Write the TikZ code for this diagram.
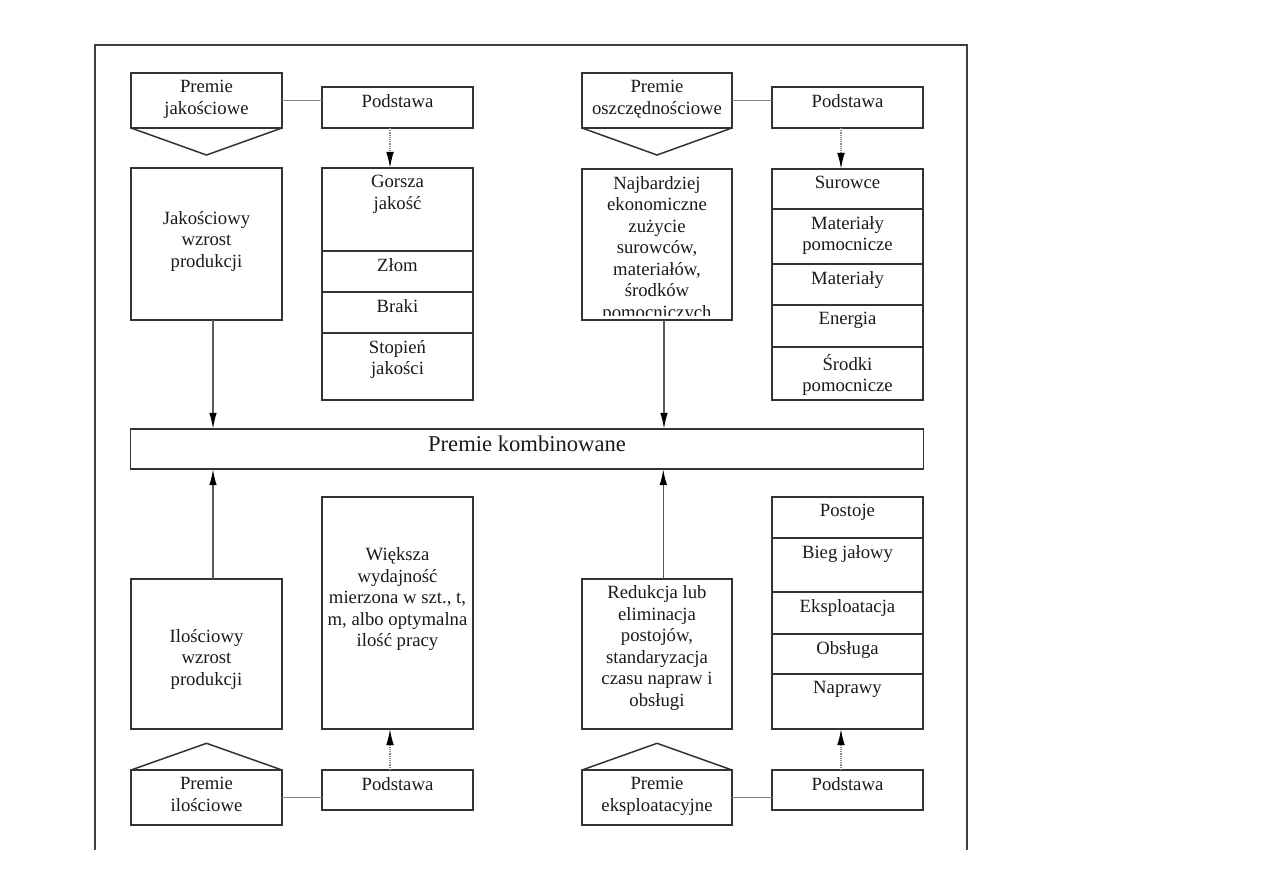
\documentclass[tikz,border=0pt]{standalone}
\usepackage{fontspec}
\setmainfont{Liberation Serif}
\usetikzlibrary{arrows.meta}
\definecolor{boxc}{HTML}{333333}
\definecolor{framec}{HTML}{404040}
\definecolor{linkc}{HTML}{858585}
\definecolor{arrc}{HTML}{5A5A5A}
\definecolor{dotc}{HTML}{8A8A8A}
\definecolor{txtc}{HTML}{1A1A1A}
\newcommand\fsmain{\fontsize{9.35pt}{10.75pt}\selectfont}
\newcommand\fsbig{\fontsize{11.3pt}{13pt}\selectfont}
\begin{document}
\begin{tikzpicture}[x=0.5pt,y=-0.5pt,
  box/.style={draw=boxc, line width=0.75pt, inner sep=0pt, outer sep=0pt, minimum width=75.5pt},
  txt/.style={align=center, inner sep=0pt, font=\fsmain, text=txtc},
  toptxt/.style={txt, anchor=north, yshift=-3.5pt},
  boxline/.style={draw=boxc, line width=0.75pt, line join=miter},
  link/.style={draw=linkc, line width=0.65pt},
  arr/.style={draw=arrc, line width=0.7pt, -{Latex[length=8pt,width=3.8pt,color=black]}},
  darr/.style={arr, draw=dotc, dash pattern=on 0.6pt off 0.5pt}]
\useasboundingbox (0,0) rectangle (1263,893);
\fill[white] (0,0) rectangle (1263,893);
% frame
\draw[draw=framec, line width=0.75pt] (95,850) -- (95,45) -- (967,45) -- (967,850);

% ---------- top left ----------
\node[box, minimum height=27.5pt] (pj) at (206.5,100.5) {};
\node[toptxt] (pjt) at (pj.north) {Premie\\jakościowe};
\coordinate (pja) at (206.5,155);
\draw[boxline] (pj.south west) -- (pja) -- (pj.south east);
\node[box, minimum height=20.5pt] (pjp) at (397.5,107.5) {};
\node[toptxt] (pjpt) at (pjp.north) {Podstawa};
\draw[link] (pj.east) -- (pj.east -| pjp.west);

\node[box, minimum height=76pt] (jw) at (206.5,244) {};
\node[txt] (jwt) at (206.5,241.3) {Jakościowy\\wzrost\\produkcji};

\node[box, minimum height=41.5pt] (g1) at (397.5,209.5) {};
\node[toptxt] (g1t) at (g1.north) {Gorsza\\jakość};
\node[box, minimum height=20.5pt] (g2) at (397.5,271.5) {};
\node[toptxt] (g2t) at (g2.north) {Złom};
\node[box, minimum height=20.5pt] (g3) at (397.5,312.5) {};
\node[toptxt] (g3t) at (g3.north) {Braki};
\node[box, minimum height=33.5pt] (g4) at (397.5,366.5) {};
\node[toptxt] (g4t) at (g4.north) {Stopień\\jakości};

% ---------- top right ----------
\node[box, minimum width=75pt, minimum height=27.5pt] (po) at (657,100.5) {};
\node[toptxt] (pot) at (po.north) {Premie\\oszczędnościowe};
\coordinate (poa) at (657,155);
\draw[boxline] (po.south west) -- (poa) -- (po.south east);
\node[box, minimum height=20.5pt] (pop) at (847.5,107.5) {};
\node[toptxt] (popt) at (pop.north) {Podstawa};
\draw[link] (po.east) -- (po.east -| pop.west);

\node[box, minimum width=75pt, minimum height=75.5pt] (nb) at (657,244.5) {};
\begin{scope}
  \clip (582,169) rectangle (732,315.5);
  \node[toptxt] (nbt) at (nb.north) {Najbardziej\\ekonomiczne\\zużycie\\surowców,\\materiałów,\\środków\\pomocniczych};
\end{scope}

\node[box, minimum height=20pt] (s1) at (847.5,189) {};
\node[toptxt] (s1t) at (s1.north) {Surowce};
\node[box, minimum height=27.5pt] (s2) at (847.5,236.5) {};
\node[toptxt] (s2t) at (s2.north) {Materiały\\pomocnicze};
\node[box, minimum height=20.5pt] (s3) at (847.5,284.5) {};
\node[toptxt] (s3t) at (s3.north) {Materiały};
\node[box, minimum height=21pt] (s4) at (847.5,326) {};
\node[toptxt] (s4t) at (s4.north) {Energia};
\node[box, minimum height=26.5pt] (s5) at (847.5,373.5) {};
\node[toptxt] (s5t) at (s5.north) {Środki\\pomocnicze};

% ---------- middle ----------
\node[box, minimum width=396.3pt, minimum height=20.2pt] (komb) at (527,449) {};
\node[txt, font=\fsbig] (kombt) at (527,444) {Premie kombinowane};

% ---------- bottom left ----------
\node[box, minimum height=75pt] (il) at (206.5,654) {};
\node[txt] (ilt) at (206.5,659) {Ilościowy\\wzrost\\produkcji};
\node[box, minimum height=116pt] (wk) at (397.5,613) {};
\node[txt] (wkt) at (397.5,599.5) {Większa\\wydajność\\mierzona w szt., t,\\m, albo optymalna\\ilość pracy};

\node[box, minimum height=27.5pt] (pi) at (206.5,797.5) {};
\node[toptxt] (pit) at (pi.north) {Premie\\ilościowe};
\coordinate (pia) at (206.5,743.3);
\draw[boxline] (pi.north west) -- (pia) -- (pi.north east);
\node[box, minimum height=20pt] (pip) at (397.5,790) {};
\node[toptxt] (pipt) at (pip.north) {Podstawa};
\draw[link] (pi.east) -- (pi.east -| pip.west);

% ---------- bottom right ----------
\node[box, minimum width=75pt, minimum height=75pt] (rd) at (657,654) {};
\node[txt] (rdt) at (657,648) {Redukcja lub\\eliminacja\\postojów,\\standaryzacja\\czasu napraw i\\obsługi};

\node[box, minimum height=20.5pt] (r1) at (847.5,517.5) {};
\node[toptxt] (r1t) at (r1.north) {Postoje};
\node[box, minimum height=27pt] (r2) at (847.5,565) {};
\node[toptxt] (r2t) at (r2.north) {Bieg jałowy};
\node[box, minimum height=21pt] (r3) at (847.5,613) {};
\node[toptxt] (r3t) at (r3.north) {Eksploatacja};
\node[box, minimum height=20pt] (r4) at (847.5,654) {};
\node[toptxt] (r4t) at (r4.north) {Obsługa};
\node[box, minimum height=27.5pt] (r5) at (847.5,701.5) {};
\node[toptxt] (r5t) at (r5.north) {Naprawy};

\node[box, minimum width=75pt, minimum height=27.5pt] (pe) at (657,797.5) {};
\node[toptxt] (pet) at (pe.north) {Premie\\eksploatacyjne};
\coordinate (pea) at (657,743.3);
\draw[boxline] (pe.north west) -- (pea) -- (pe.north east);
\node[box, minimum height=20pt] (pep) at (847.5,790) {};
\node[toptxt] (pept) at (pep.north) {Podstawa};
\draw[link] (pe.east) -- (pe.east -| pep.west);

% ---------- arrows ----------
\coordinate (d1a) at ([xshift=-3.75pt]pjp.south);
\coordinate (d1b) at ([xshift=-3.75pt]g1.north);
\draw[darr] (d1a) -- (d1b);
\coordinate (d2a) at ([xshift=-3.25pt]pop.south);
\coordinate (d2b) at ([xshift=-3.25pt]s1.north);
\draw[darr] (d2a) -- (d2b);
\coordinate (d3a) at ([xshift=-3.75pt]pip.north);
\coordinate (d3b) at ([xshift=-3.75pt]wk.south);
\draw[darr] (d3a) -- (d3b);
\coordinate (d4a) at ([xshift=-3.25pt]pep.north);
\coordinate (d4b) at ([xshift=-3.25pt]r5.south);
\draw[darr] (d4a) -- (d4b);

\coordinate (a1) at ([xshift=3.25pt]jw.south);
\draw[arr] (a1) -- (a1 |- komb.north);
\coordinate (a2) at ([xshift=3.5pt]nb.south);
\draw[arr] (a2) -- (a2 |- komb.north);
\coordinate (a3) at ([xshift=3.25pt]il.north);
\draw[arr] (a3) -- (a3 |- komb.south);
\coordinate (a4) at ([xshift=3.15pt]rd.north);
\draw[arr] (a4) -- (a4 |- komb.south);
\end{tikzpicture}
\end{document}
